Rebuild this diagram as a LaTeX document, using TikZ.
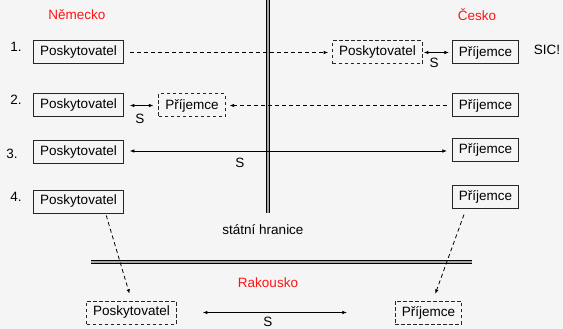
\documentclass[tikz,border=0pt]{standalone}
\usepackage{fontspec}
\setmainfont{Liberation Sans}
\usetikzlibrary{arrows.meta,calc}
\definecolor{bgcol}{HTML}{F5F5F5}
\definecolor{landred}{HTML}{FF1414}

\begin{document}
\begin{tikzpicture}[x=1pt,y=-1pt,
  font=\fontsize{13.5}{16}\selectfont,
  box/.style={draw=black!85,line width=1pt,minimum height=23pt,inner xsep=6.5pt,inner ysep=0pt},
  dbox/.style={box,dash pattern=on 3.5pt off 2.5pt},
  land/.style={text=landred},
  dline/.style={line width=0.8pt,dash pattern=on 4pt off 3pt},
  sline/.style={line width=0.7pt},
  tip/.style={-{Latex[length=4.5pt,width=3.5pt]}},
  tips/.style={{Latex[length=4.5pt,width=3.5pt]}-{Latex[length=4.5pt,width=3.5pt]}},
  border/.style={line width=0.8pt,double=black!35,double distance=1.6pt}
]

\useasboundingbox[fill=bgcol] (0,0) rectangle (563,329);

% countries
\node[land] (de) at (77,15) {Německo};
\node[land] (cz) at (477,15) {Česko};
\node[land] (at) at (268,283) {Rakousko};

% border lines
\coordinate (vtop) at (268,0);
\coordinate (vbot) at (268,213);
\draw[border] (vtop) -- (vbot);
\node (hr) at (263,230) {státní hranice};
\coordinate (hleft) at (91,262);
\coordinate (hright) at (472,262);
\draw[border] (hleft) -- (hright);

% 1.
\node (n1) at (16,47) {1.};
\node[box] (p1) at (78.5,52.5) {Poskytovatel};
\node[dbox] (pd1) at (377.5,52.5) {Poskytovatel};
\node[box] (r1) at (485.5,52.5) {Příjemce};
\node (sic) at (547,50) {SIC!};
\draw[dline,tip,shorten <=6pt,shorten >=4pt] (p1) -- (pd1);
\draw[sline,tips,shorten <=1pt,shorten >=3pt] (pd1) -- (r1);
\node (s1) at (434,63) {S};

% 2.
\node (n2) at (16,100) {2.};
\node[box] (p2) at (78.5,105.5) {Poskytovatel};
\node[dbox] (rd2) at (192,105.5) {Příjemce};
\node[box] (r2) at (485.5,105.5) {Příjemce};
\draw[dline,tip,shorten <=5pt,shorten >=4pt] (r2) -- (rd2);
\draw[sline,tips,shorten <=6pt,shorten >=5pt] (p2) -- (rd2);
\node (s2) at (140,119) {S};

% 3.
\node (n3) at (12,154) {3.};
\node[box] (p3) at (78.5,152) {Poskytovatel};
\node[box] (r3) at (485.5,150) {Příjemce};
\draw[sline,tips,shorten <=6pt,shorten >=5pt] (p3.east |- 0,151) -- (r3.west |- 0,151);
\node (s3) at (240,163) {S};

% 4.
\node (n4) at (16,197) {4.};
\node[box] (p4) at (78.5,201.5) {Poskytovatel};
\node[box] (r4) at (485.5,197) {Příjemce};
\node[dbox] (pd4) at (131.5,312.5) {Poskytovatel};
\node[dbox] (rd4) at (428.5,312.5) {Příjemce};
\draw[dline,tip,shorten <=2pt,shorten >=7pt] ($(p4.south)!0.6!(p4.south east)$) -- (pd4.north);
\draw[dline,tip,shorten <=6pt,shorten >=7pt] ($(r4.south)!0.58!(r4.south west)$) -- ($(rd4.north)!0.13!(rd4.north east)$);
\draw[sline,tips,shorten <=26pt,shorten >=48pt] (pd4) -- (rd4);
\node (s4) at (268,322) {S};

\end{tikzpicture}
\end{document}
